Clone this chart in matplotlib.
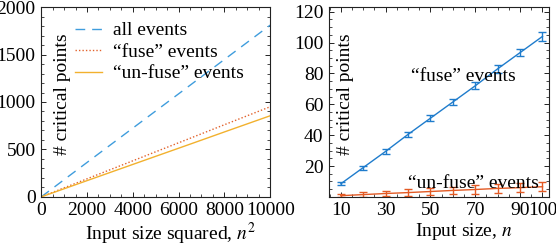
import matplotlib
matplotlib.use("Agg")
import matplotlib.pyplot as plt
from matplotlib.ticker import AutoMinorLocator

plt.rcParams['font.family'] = ['Liberation Serif', 'DejaVu Serif']
plt.rcParams['mathtext.fontset'] = 'stix'
plt.rcParams['font.size'] = 14

# ---- left panel data (vs n^2) ----
n_sq = [0, 100, 400, 900, 1600, 2500, 3600, 4900, 6400, 8100, 10000]
all_events = [0, 18, 72, 163, 290, 453, 652, 887, 1158, 1466, 1810]
fuse_events = [0, 9.5, 38, 86, 152, 238, 342, 466, 608, 770, 950]
unfuse_events = [0, 8.6, 34, 77, 137, 214, 308, 419, 547, 693, 855]

# ---- right panel data (vs n) ----
n_vals = [10, 20, 30, 40, 50, 60, 70, 80, 90, 100]
fuse_mean = [8.5, 19.0, 29.5, 40.5, 51.0, 61.5, 72.0, 83.0, 93.5, 104.0]
fuse_err = [1.0, 1.3, 1.5, 1.7, 1.8, 2.0, 2.2, 2.4, 2.5, 2.8]
unfuse_mean = [0.8, 1.5, 2.2, 2.8, 3.5, 4.2, 4.8, 5.5, 6.0, 6.6]
unfuse_err = [1.0, 1.4, 1.8, 2.0, 2.2, 2.5, 2.6, 2.8, 3.0, 3.0]

left_xticks = [0, 2000, 4000, 6000, 8000, 10000]
left_yticks = [0, 500, 1000, 1500, 2000]
right_xticks = [10, 30, 50, 70, 90, 100]
right_yticks = [20, 40, 60, 80, 100, 120]

c_all = '#3f9ddd'
c_fuse_l = '#e2622c'
c_unfuse_l = '#f2b12e'
c_blue = '#1f7ccc'
c_orange = '#e35a24'

fig = plt.figure(figsize=(5.56, 2.44), dpi=100)
ax1 = fig.add_axes([0.074, 0.193, 0.412, 0.778])
ax2 = fig.add_axes([0.592, 0.193, 0.395, 0.778])

ax1.plot(n_sq, all_events, color=c_all, lw=1.0, ls=(0, (7, 5)), label='all events')
ax1.plot(n_sq, fuse_events, color=c_fuse_l, lw=1.0, ls=(0, (1, 1.5)), label='\u201cfuse\u201d events')
ax1.plot(n_sq, unfuse_events, color=c_unfuse_l, lw=1.0, label='\u201cun-fuse\u201d events')
ax1.set_xlim(0, 10000)
ax1.set_ylim(0, 2000)
ax1.set_xticks(left_xticks)
ax1.set_yticks(left_yticks)
ax1.set_xlabel('Input size squared, $n^2$', labelpad=1, x=0.563)
ax1.text(0.092, 0.54, '# critical points', transform=ax1.transAxes, rotation=90,
         ha='center', va='center')
ax1.legend(loc='upper left', bbox_to_anchor=(0.13, 0.943), frameon=False,
           handlelength=1.4, handletextpad=0.55, labelspacing=0.2, borderpad=0.2,
           borderaxespad=0.0)

ax2.errorbar(n_vals, fuse_mean, yerr=fuse_err, color=c_blue, lw=1.0, capsize=3,
             elinewidth=1.0, capthick=1.0)
ax2.errorbar(n_vals, unfuse_mean, yerr=unfuse_err, color=c_orange, lw=1.0, capsize=3,
             elinewidth=1.0, capthick=1.0)
ax2.set_xlim(4.8, 102.8)
ax2.set_ylim(0, 123)
ax2.set_xticks(right_xticks)
ax2.set_yticks(right_yticks)
ax2.set_xlabel('Input size, $n$', labelpad=1, x=0.614)
ax2.text(0.073, 0.54, '# critical points', transform=ax2.transAxes, rotation=90,
         ha='center', va='center')
ax2.text(64.5, 78, '\u201cfuse\u201d events', ha='center', va='center')
ax2.text(69, 9, '\u201cun-fuse\u201d events', ha='center', va='center')

for ax in (ax1, ax2):
    ax.xaxis.set_minor_locator(AutoMinorLocator())
    ax.yaxis.set_minor_locator(AutoMinorLocator())
    ax.tick_params(which='both', direction='in', top=True, right=True)
    ax.tick_params(which='major', length=3.5, width=0.6, pad=4)
    ax.tick_params(which='minor', length=2, width=0.5)
    for s in ax.spines.values():
        s.set_linewidth(0.8)
        s.set_color('#222222')

fig.savefig('out.png', dpi=100)
